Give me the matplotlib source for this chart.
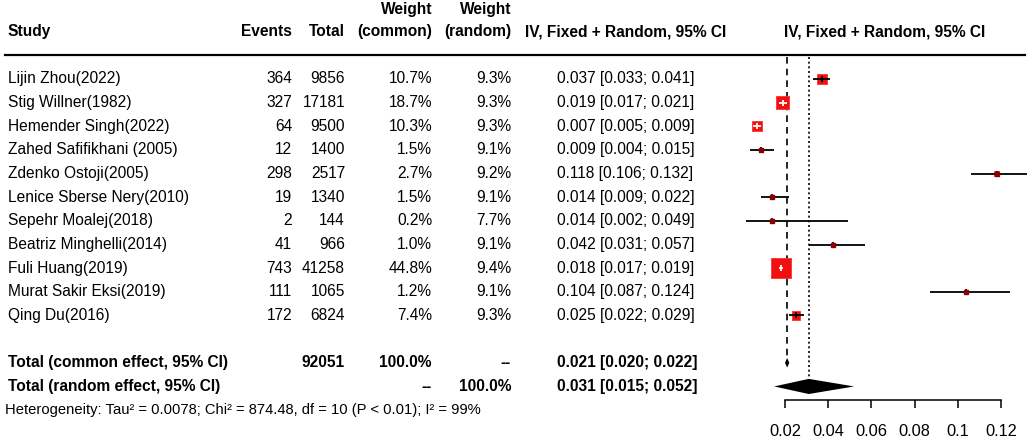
import numpy as np
import matplotlib
matplotlib.use("Agg")
import matplotlib.pyplot as plt
import matplotlib.transforms as mtransforms
from matplotlib.lines import Line2D

plt.rcParams["font.family"] = ["Liberation Sans", "DejaVu Sans"]

# ---- data ----
studies = ["Lijin Zhou(2022)", "Stig Willner(1982)", "Hemender Singh(2022)",
           "Zahed Safifikhani (2005)", "Zdenko Ostoji(2005)", "Lenice Sberse Nery(2010)",
           "Sepehr Moalej(2018)", "Beatriz Minghelli(2014)", "Fuli Huang(2019)",
           "Murat Sakir Eksi(2019)", "Qing Du(2016)"]
events = [364, 327, 64, 12, 298, 19, 2, 41, 743, 111, 172]
totals = [9856, 17181, 9500, 1400, 2517, 1340, 144, 966, 41258, 1065, 6824]
w_common = [10.7, 18.7, 10.3, 1.5, 2.7, 1.5, 0.2, 1.0, 44.8, 1.2, 7.4]
w_random = [9.3, 9.3, 9.3, 9.1, 9.2, 9.1, 7.7, 9.1, 9.4, 9.1, 9.3]
est = [0.037, 0.019, 0.007, 0.009, 0.118, 0.014, 0.014, 0.042, 0.018, 0.104, 0.025]
lo = [0.033, 0.017, 0.005, 0.004, 0.106, 0.009, 0.002, 0.031, 0.017, 0.087, 0.022]
hi = [0.041, 0.021, 0.009, 0.015, 0.132, 0.022, 0.049, 0.057, 0.019, 0.124, 0.029]

common = (0.021, 0.020, 0.022)
random_ = (0.031, 0.015, 0.052)
total_n = 92051
het_text = ("Heterogeneity: Tau\u00b2 = 0.0078; Chi\u00b2 = 874.48, df = 10 (P < 0.01); "
            "I\u00b2 = 99%")
xticks = [0.02, 0.04, 0.06, 0.08, 0.1, 0.12]
xticklabels = ["0.02", "0.04", "0.06", "0.08", "0.1", "0.12"]

W, H = 1029, 440
fig = plt.figure(figsize=(W / 100, H / 100), dpi=100)

# forest panel on the right; y = row index (0 = first study)
ax = fig.add_axes([730 / W, 0, 299 / W, 1])
px_per_unit = 2160
ax.set_xlim(0.02 - 55 / px_per_unit, 0.02 + 244 / px_per_unit)
row_h = 23.65
ax.set_ylim((H - 79) / row_h, -79 / row_h)
for s in ["top", "left", "right"]:
    ax.spines[s].set_visible(False)
ax.set_yticks([])

n = len(studies)
rows = np.arange(n)
y_common, y_random, y_het = n + 1, n + 2, n + 3
y_axis = 13.57

# text columns use figure x and data y
tr = mtransforms.blended_transform_factory(fig.transFigure, ax.transData)
fs = 11.2

def col(x, y, s, ha="right", bold=False, size=fs):
    fig.text(x / W, y, s, transform=tr, ha=ha, va="center", fontsize=size,
             fontweight="bold" if bold else "normal")

# header
col(8, -2, "Study", ha="left", bold=True)
col(292, -2, "Events", bold=True)
col(345, -2, "Total", bold=True)
col(432, -2.92, "Weight", bold=True)
col(432, -2, "(common)", bold=True)
col(511, -2.92, "Weight", bold=True)
col(511, -2, "(random)", bold=True)
col(626, -2, "IV, Fixed + Random, 95% CI", ha="center", bold=True)
col(885, -2, "IV, Fixed + Random, 95% CI", ha="center", bold=True)
fig.add_artist(Line2D([5 / W, 1025 / W], [-1, -1], transform=tr, color="black", lw=1.6))

# study rows
for i in rows:
    col(8, i, studies[i], ha="left")
    col(292, i, f"{events[i]}")
    col(345, i, f"{totals[i]}")
    col(432, i, f"{w_common[i]:.1f}%")
    col(511, i, f"{w_random[i]:.1f}%")
    col(557, i, f"{est[i]:.3f} [{lo[i]:.3f}; {hi[i]:.3f}]", ha="left")

# totals
col(8, y_common, "Total (common effect, 95% CI)", ha="left", bold=True)
col(345, y_common, f"{total_n}", bold=True)
col(432, y_common, "100.0%", bold=True)
col(511, y_common, "--", bold=True)
col(557, y_common, f"{common[0]:.3f} [{common[1]:.3f}; {common[2]:.3f}]", ha="left", bold=True)
col(8, y_random, "Total (random effect, 95% CI)", ha="left", bold=True)
col(432, y_random, "--", bold=True)
col(511, y_random, "100.0%", bold=True)
col(557, y_random, f"{random_[0]:.3f} [{random_[1]:.3f}; {random_[2]:.3f}]", ha="left", bold=True)
col(5, y_het, het_text, ha="left", size=10.6)

# reference lines
ax.vlines(common[0], -0.93, y_common, colors="black", linestyles=(0, (4, 3)), lw=1.2)
ax.vlines(random_[0], -0.93, y_random, colors="black", linestyles=(0, (1.2, 1.6)), lw=1.2)

# squares, sized by common weight
side_px = 3 * np.sqrt(w_common)
ax.scatter(est, rows, s=(side_px * 0.72) ** 2, marker="s", color="#f01010",
           edgecolors="#ff3030", linewidths=0.6, zorder=3)

# CI lines: white where the interval sits inside the square
for i in rows:
    ci_px = (hi[i] - lo[i]) * px_per_unit
    c = "white" if ci_px < side_px[i] else "black"
    ax.hlines(i, lo[i], hi[i], colors=c, lw=1.3, zorder=4)
    ax.plot(est[i], i, marker="|", ms=4.5, mew=1.3, color=c, zorder=4)
    if c == "black" and side_px[i] < 5:
        ax.plot(est[i], i, marker="s", ms=2.2, color="#8b0000", zorder=5)

# diamonds
def diamond(e, l, h, y, half):
    ax.fill([l, e, h, e], [y, y - half, y, y + half], color="black", zorder=5, lw=0)

diamond(*common, y_common, 0.2)
diamond(*random_, y_random, 0.32)

# x axis
ax.spines["bottom"].set_position(("data", y_axis))
ax.spines["bottom"].set_bounds(xticks[0], xticks[-1])
ax.spines["bottom"].set_linewidth(1.1)
ax.set_xticks(xticks)
ax.set_xticklabels(xticklabels, fontsize=11.8)
ax.tick_params(axis="x", direction="out", length=6, width=1.1, pad=11)

fig.savefig("out.png", dpi=100)
